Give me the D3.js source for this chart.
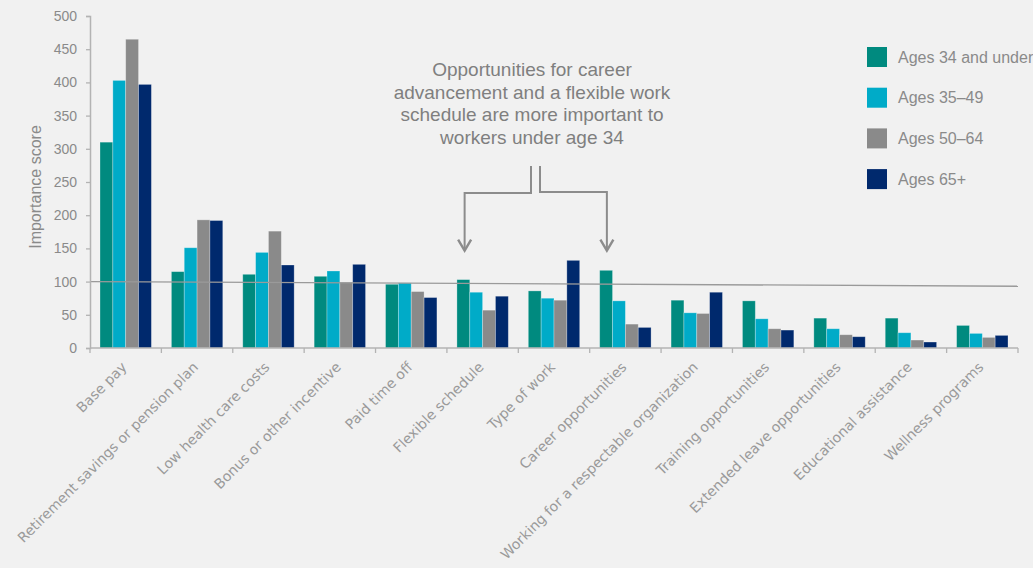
<!DOCTYPE html>
<html>
<head>
<meta charset="utf-8">
<script src="https://cdn.jsdelivr.net/npm/d3@7"></script>
<style>
  html, body { margin: 0; padding: 0; background: #f1f1f1; }
  svg { display: block; }
</style>
</head>
<body>
<svg id="chart" width="1033" height="568"></svg>
<script>
// Benefit categories along the x axis
const categories = [
  "Base pay",
  "Retirement savings or pension plan",
  "Low health care costs",
  "Bonus or other incentive",
  "Paid time off",
  "Flexible schedule",
  "Type of work",
  "Career opportunities",
  "Working for a respectable organization",
  "Training opportunities",
  "Extended leave opportunities",
  "Educational assistance",
  "Wellness programs"
];

// Age groups (series)
const seriesNames = ["Ages 34 and under", "Ages 35–49", "Ages 50–64", "Ages 65+"];

// Importance scores per age group, in category order
const ages34Under = [310, 115, 111, 108, 96, 103, 86, 117, 72, 71, 45, 45, 34];
const ages35to49  = [403, 151, 144, 116, 98, 84, 75, 71, 53, 44, 29, 23, 22];
const ages50to64  = [465, 193, 176, 99, 85, 57, 72, 36, 52, 29, 20, 12, 16];
const ages65Plus  = [397, 192, 125, 126, 76, 78, 132, 31, 84, 27, 17, 9, 19];

// Average line: value at left edge and at right edge of the plot
const averageLine = [100, 93];

// Y axis ticks
const yTicks = [0, 50, 100, 150, 200, 250, 300, 350, 400, 450, 500];

// Callout text
const calloutLines = [
  "Opportunities for career",
  "advancement and a flexible work",
  "schedule are more important to",
  "workers under age 34"
];

const seriesValues = [ages34Under, ages35to49, ages50to64, ages65Plus];
const colors = ["#008a7f", "#00abc8", "#8a8a8a", "#00296d"];

const svg = d3.select("#chart");
const plotLeft = 90, plotRight = 1018, plotTop = 16, plotBottom = 348;

const x0 = d3.scaleBand()
  .domain(categories)
  .range([plotLeft, plotRight])
  .paddingInner(0.28)
  .paddingOuter(0.14);

const x1 = d3.scaleBand()
  .domain(d3.range(seriesNames.length))
  .range([0, x0.bandwidth()]);

const y = d3.scaleLinear().domain([0, 500]).range([plotBottom, plotTop]);

const axisColor = "#b3b3b3";
const textColor = "#8a8a8a";

// Bars
const groups = svg.append("g")
  .selectAll("g")
  .data(categories)
  .join("g")
  .attr("transform", d => `translate(${x0(d)},0)`);

groups.selectAll("rect")
  .data((d, i) => seriesValues.map((vals, s) => ({ s, v: vals[i] })))
  .join("rect")
  .attr("x", d => x1(d.s))
  .attr("width", x1.bandwidth())
  .attr("y", d => y(d.v))
  .attr("height", d => y(0) - y(d.v))
  .attr("fill", d => colors[d.s])
  .attr("stroke", "rgba(255,255,255,0.35)")
  .attr("stroke-width", 0.8);

// Average line across the plot
svg.append("line")
  .attr("x1", plotLeft).attr("x2", plotRight)
  .attr("y1", y(averageLine[0])).attr("y2", y(averageLine[1]))
  .attr("stroke", "#9a9a9a")
  .attr("stroke-width", 1.3);

// Y axis
const yAxis = svg.append("g")
  .attr("transform", `translate(${plotLeft},0)`)
  .call(d3.axisLeft(y).tickValues(yTicks).tickSize(4).tickPadding(9));
yAxis.select(".domain").attr("stroke", axisColor).attr("stroke-width", 1.5);
yAxis.selectAll(".tick line").attr("stroke", axisColor).attr("stroke-width", 1.3);
yAxis.selectAll(".tick text")
  .attr("fill", textColor)
  .style("font-family", "'Liberation Sans', Arial, sans-serif")
  .style("font-size", "14px");

// X axis baseline with ticks at category boundaries
const step = x0.step();
const boundaries = categories.map(c => x0(c) - step * x0.paddingOuter()).concat([plotRight]);
svg.append("line")
  .attr("x1", plotLeft).attr("x2", plotRight)
  .attr("y1", plotBottom).attr("y2", plotBottom)
  .attr("stroke", axisColor).attr("stroke-width", 1.5);
svg.append("g").selectAll("line")
  .data(boundaries)
  .join("line")
  .attr("x1", d => d).attr("x2", d => d)
  .attr("y1", plotBottom).attr("y2", plotBottom + 5)
  .attr("stroke", axisColor).attr("stroke-width", 1.3);

// Rotated category labels
svg.append("g").selectAll("text")
  .data(categories)
  .join("text")
  .attr("transform", d => `translate(${x0(d) + x0.bandwidth() / 2 + 2},${plotBottom + 20}) rotate(-45)`)
  .attr("text-anchor", "end")
  .attr("fill", "#9a9a9a")
  .style("font-family", "'DejaVu Sans', sans-serif")
  .style("font-size", "14px")
  .text(d => d);

// Y axis title
svg.append("text")
  .attr("transform", `translate(41,187) rotate(-90)`)
  .attr("text-anchor", "middle")
  .attr("fill", textColor)
  .style("font-family", "'Liberation Sans', Arial, sans-serif")
  .style("font-size", "16px")
  .text("Importance score");

// Legend
const legend = svg.append("g").attr("transform", "translate(867,47)");
const items = legend.selectAll("g")
  .data(seriesNames)
  .join("g")
  .attr("transform", (d, i) => `translate(0,${i * 40.7})`);
items.append("rect")
  .attr("width", 20).attr("height", 20)
  .attr("fill", (d, i) => colors[i]);
items.append("text")
  .attr("x", 31).attr("y", 15.5)
  .attr("fill", textColor)
  .style("font-family", "'Liberation Sans', Arial, sans-serif")
  .style("font-size", "16px")
  .text(d => d);

// Callout text
const callout = svg.append("text")
  .attr("text-anchor", "middle")
  .attr("fill", "#7f7f7f")
  .style("font-family", "'Liberation Sans', Arial, sans-serif")
  .style("font-size", "19px");
callout.selectAll("tspan")
  .data(calloutLines)
  .join("tspan")
  .attr("x", 532)
  .attr("y", (d, i) => 76 + i * 22.7)
  .text(d => d);

// Callout brackets pointing to Flexible schedule and Career opportunities
const arrowY = y(averageLine[0]) - 31;
const leftTarget = x0("Flexible schedule") + x0.bandwidth() * 0.15;
const rightTarget = x0("Career opportunities") + x0.bandwidth() * 0.14;
const bracketColor = "#8c8c8c";
const brackets = [
  [[531, 166], [531, 193], [leftTarget, 193], [leftTarget, arrowY]],
  [[540, 166], [540, 192], [rightTarget, 192], [rightTarget, arrowY]]
];
brackets.forEach(pts => {
  svg.append("path")
    .attr("d", d3.line()(pts))
    .attr("fill", "none")
    .attr("stroke", bracketColor)
    .attr("stroke-width", 2);
  const tip = pts[3];
  svg.append("path")
    .attr("d", d3.line()([[tip[0] - 6.5, tip[1] - 11], [tip[0], tip[1]], [tip[0] + 6.5, tip[1] - 11]]))
    .attr("fill", "none")
    .attr("stroke", bracketColor)
    .attr("stroke-width", 2.4);
});
</script>
</body>
</html>
